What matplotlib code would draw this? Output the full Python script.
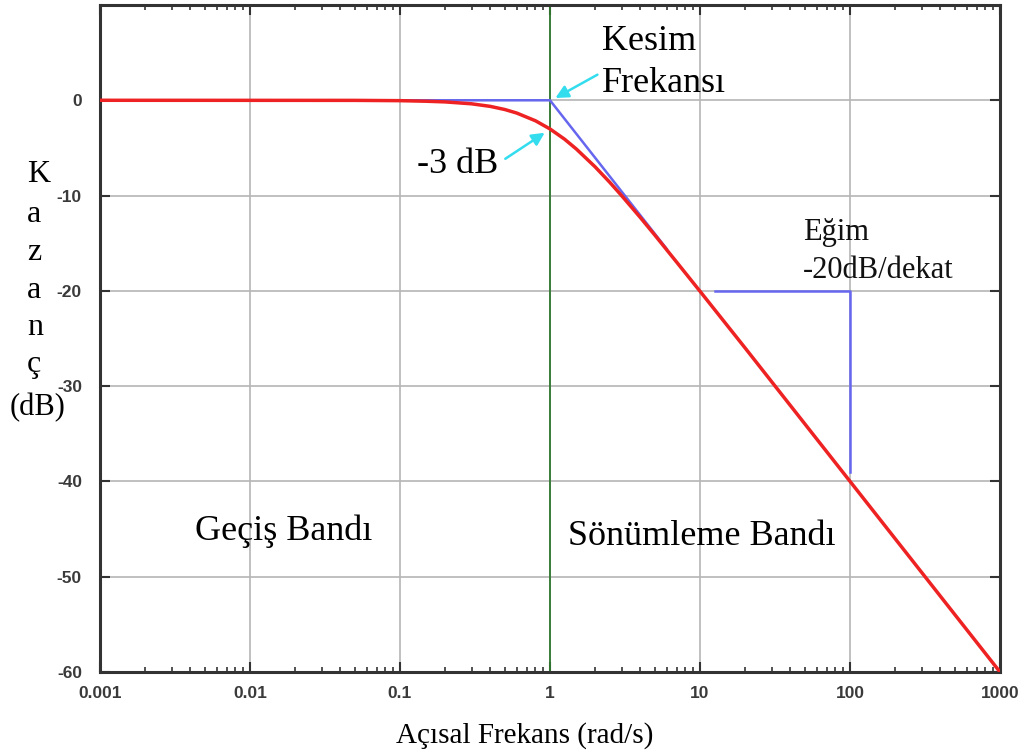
import numpy as np
import matplotlib
matplotlib.use("Agg")
import matplotlib.pyplot as plt
from matplotlib.ticker import LogLocator, FixedLocator

# red curve
freq = [0.001, 0.05, 0.1, 0.15, 0.2, 0.3, 0.4, 0.5, 0.6, 0.8, 1, 1.25, 1.5,
        2, 2.5, 3, 4, 5, 7, 10, 20, 1000]
gain = [0, -0.01, -0.04, -0.1, -0.17, -0.37, -0.64, -0.97, -1.34, -2.15, -3.01,
        -4.08, -5.12, -6.99, -8.6, -10.0, -12.3, -14.15, -17.0, -20.04, -26.0, -60.0]

# blue asymptote and slope triangle
asym_x = [0.001, 1, 6]
asym_y = [0, 0, -15.6]
slope_x = [12.6, 100, 100]
slope_y = [-20, -20, -39]

cutoff = 1
xticks = [0.001, 0.01, 0.1, 1, 10, 100, 1000]
xlabels = ['0.001', '0.01', '0.1', '1', '10', '100', '1000']
yticks = [0, -10, -20, -30, -40, -50, -60]

serif = 'Liberation Serif'
W, H = 1028, 753

fig = plt.figure(figsize=(W / 100, H / 100), dpi=100)
ax = fig.add_axes([100 / W, 81 / H, 900 / W, 667 / H])
ax.set_xscale('log')
ax.set_xlim(0.001, 1000)
ax.set_ylim(-60, 10)

ax.grid(True, which='major', color='#b5b5b5', lw=1.2)
ax.set_axisbelow(True)

ax.axvline(cutoff, color='#2f7a2f', lw=1.3, zorder=2)
ax.plot(asym_x, asym_y, color='#6666ee', lw=1.8, zorder=3)
ax.plot(slope_x, slope_y, color='#6666ee', lw=1.8, zorder=3)
ax.plot(freq, gain, color='#ee2222', lw=2.5, zorder=4)

ax.xaxis.set_major_locator(FixedLocator(xticks))
ax.set_xticklabels(xlabels)
ax.xaxis.set_minor_locator(LogLocator(base=10, subs=np.arange(2, 10), numticks=20))
ax.set_yticks(yticks)
ax.set_yticklabels([str(v) for v in yticks])

for lab in ax.get_xticklabels() + ax.get_yticklabels():
    lab.set_fontfamily('Liberation Sans')
    lab.set_fontweight('bold')
    lab.set_fontsize(12.5)

ax.tick_params(axis='x', which='major', direction='in', length=7, width=1.5,
               top=True, pad=10, colors='#333333')
ax.tick_params(axis='x', which='minor', direction='in', length=3.5, width=1.2,
               top=True, colors='#333333')
ax.tick_params(axis='y', which='major', direction='in', length=7, width=1.5,
               right=True, pad=13, colors='#333333')
for lab in ax.get_xticklabels() + ax.get_yticklabels():
    lab.set_color('#3a3a3a')
for s in ax.spines.values():
    s.set_linewidth(2.2)
    s.set_color('#333333')

# annotations
arrow = dict(arrowstyle='-|>', color='#33ddee', lw=1.8, mutation_scale=19)
ax.annotate('', xy=(1.047, 0.1), xytext=(2.15, 2.83), arrowprops=arrow, zorder=5)
ax.annotate('', xy=(0.955, -3.25), xytext=(0.486, -6.3), arrowprops=arrow, zorder=5)

big = dict(family=serif, fontsize=26, color='black', ha='left', va='baseline')
ax.text(2.22, 5.25, 'Kesim', **big)
ax.text(2.22, 0.84, 'Frekansı', **big)
ax.text(0.13, -7.66, '-3 dB', **big)
ax.text(0.0043, -46.1, 'Geçiş Bandı', **big)
ax.text(1.318, -46.7, 'Sönümleme Bandı', **big)

small = dict(family=serif, fontsize=22, color='#111111', ha='left', va='baseline')
ax.text(48.6, -14.7, 'Eğim', **small)
ax.text(48.6, -18.7, '-20dB/dekat', **small)

# vertical y label, letter by letter
for ch, yb in zip(['K', 'a', 'z', 'a', 'n', 'ç'], [182, 222, 260, 298, 335, 372]):
    fig.text(27 / W, 1 - yb / H, ch, family=serif, fontsize=23, ha='left', va='baseline')
fig.text(10 / W, 1 - 415 / H, '(dB)', family=serif, fontsize=22, ha='left', va='baseline')

fig.text(525 / W, 1 - 743 / H, 'Açısal Frekans (rad/s)', family=serif, fontsize=21,
         ha='center', va='baseline')

fig.savefig('out.png', dpi=100)
